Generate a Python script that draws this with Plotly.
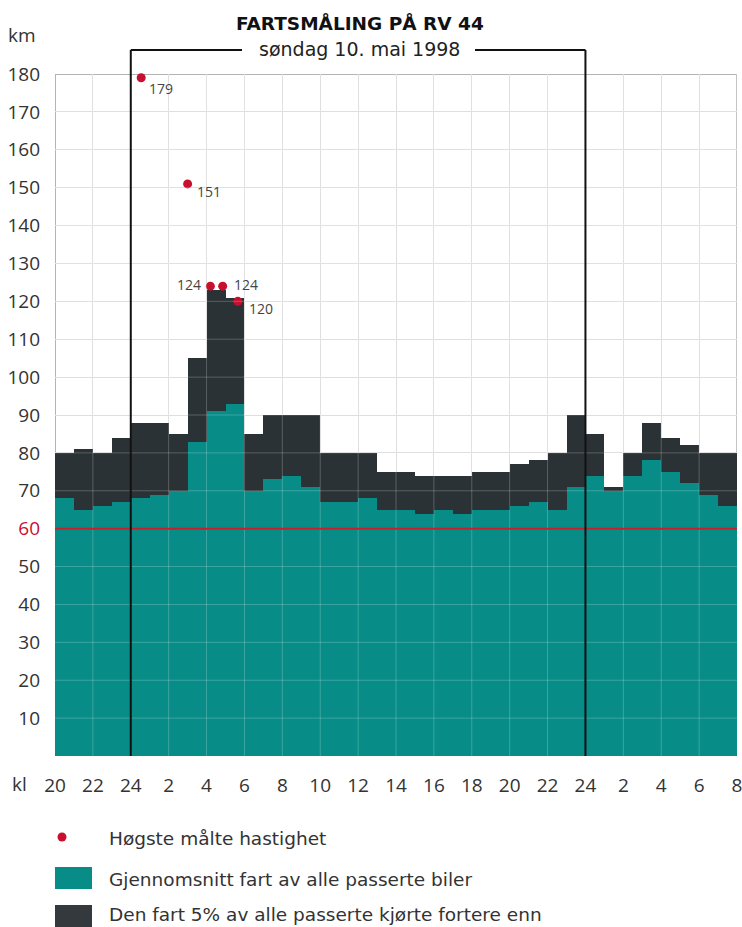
import plotly.graph_objects as go

# ---------------- data ----------------
hour_labels = ['20', '22', '24', '2', '4', '6', '8', '10', '12', '14', '16', '18',
               '20', '22', '24', '2', '4', '6', '8']
# speed that 5% of all passing cars exceeded (hourly, starting kl 20)
p95_speed = [80, 81, 80, 84, 88, 88, 85, 105, 123, 121, 85, 90,
             90, 90, 80, 80, 80, 75, 75, 74, 74, 74, 75, 75,
             77, 78, 80, 90, 85, 71, 80, 88, 84, 82, 80, 80]
# average speed of all passing cars (hourly, starting kl 20)
mean_speed = [68, 65, 66, 67, 68, 69, 70, 83, 91, 93, 70, 73,
              74, 71, 67, 67, 68, 65, 65, 64, 65, 64, 65, 65,
              66, 67, 65, 71, 74, 70, 74, 78, 75, 72, 69, 66]
# highest measured speeds (hours after kl 20)
max_hours = [4.55, 7.0, 8.2, 8.85, 9.65]
max_speed = [179, 151, 124, 124, 120]
speed_limit = 60
midnights = [4, 28]
y_ticks = list(range(10, 190, 10))

# ---------------- style ----------------
TEAL = '#078c87'
DARK = '#2b3235'
RED = '#c8102e'
TXT = '#333333'
FONT = 'Open Sans'
WIDE = 'DejaVu Sans'

W, H = 742, 927
L, R, T, B = 55, 5, 74, 171
PW, PH = W - L - R, H - T - B
BASE = H - B


def px(x):
    return (x - L) / PW


def py(y):
    return (BASE - y) / PH


n = len(p95_speed)
centers = [i + 0.5 for i in range(n)]
x_ticks = list(range(0, n + 1, 2))

fig = go.Figure()
fig.add_trace(go.Bar(x=centers, y=p95_speed, width=1, marker=dict(color=DARK, line=dict(width=0)),
                     hoverinfo='skip'))
fig.add_trace(go.Bar(x=centers, y=mean_speed, width=1, marker=dict(color=TEAL, line=dict(width=0)),
                     hoverinfo='skip'))
fig.add_trace(go.Scatter(x=max_hours, y=max_speed, mode='markers',
                         marker=dict(color=RED, size=9), cliponaxis=False, hoverinfo='skip'))

shapes = []
# plot frame (below bars)
shapes.append(dict(type='line', xref='x', yref='y', x0=0, x1=n, y0=180, y1=180,
                   line=dict(color='#b4b4b4', width=2), layer='below'))
shapes.append(dict(type='line', xref='x', yref='y', x0=0, x1=0, y0=0, y1=180,
                   line=dict(color='#b4b4b4', width=2), layer='below'))
shapes.append(dict(type='line', xref='x', yref='y', x0=n, x1=n, y0=0, y1=180,
                   line=dict(color='#c4c4c4', width=2), layer='below'))
# light grid over bars
for xv in x_ticks[1:-1]:
    shapes.append(dict(type='line', xref='x', yref='y', x0=xv, x1=xv, y0=0, y1=180,
                       line=dict(color='rgba(255,255,255,0.22)', width=1), layer='above'))
for yv in y_ticks[:-1]:
    shapes.append(dict(type='line', xref='x', yref='y', x0=0, x1=n, y0=yv, y1=yv,
                       line=dict(color='rgba(255,255,255,0.22)', width=1), layer='above'))
# speed limit
shapes.append(dict(type='line', xref='x', yref='y', x0=0, x1=n, y0=speed_limit, y1=speed_limit,
                   line=dict(color='#c8202a', width=2), layer='above'))
# day bracket
for m in midnights:
    shapes.append(dict(type='line', xref='paper', yref='paper', x0=m / n, x1=m / n, y0=0, y1=py(50),
                       line=dict(color='#111111', width=2), layer='above'))
shapes.append(dict(type='line', xref='paper', yref='paper', x0=midnights[0] / n, x1=px(242),
                   y0=py(50), y1=py(50), line=dict(color='#111111', width=2)))
shapes.append(dict(type='line', xref='paper', yref='paper', x0=px(475), x1=midnights[1] / n,
                   y0=py(50), y1=py(50), line=dict(color='#111111', width=2)))
# legend symbols
shapes.append(dict(type='circle', xref='paper', yref='paper', x0=px(57.5), x1=px(66.5),
                   y0=py(841.5), y1=py(832.5), fillcolor=RED, line=dict(width=0)))
shapes.append(dict(type='rect', xref='paper', yref='paper', x0=px(55), x1=px(92),
                   y0=py(889), y1=py(867), fillcolor=TEAL, line=dict(width=0)))
shapes.append(dict(type='rect', xref='paper', yref='paper', x0=px(55), x1=px(92),
                   y0=py(927), y1=py(905), fillcolor='#33393c', line=dict(width=0)))

ann = []
ann.append(dict(text='<b>FARTSMÅLING PÅ RV 44</b>', x=px(360), y=py(23), xref='paper', yref='paper',
                showarrow=False, xanchor='center', yanchor='middle',
                font=dict(family=WIDE, size=18.5, color='#111')))
ann.append(dict(text='søndag 10. mai 1998', x=px(359), y=py(49), xref='paper', yref='paper',
                showarrow=False, xanchor='center', yanchor='middle',
                font=dict(family=WIDE, size=19, color='#222')))
ann.append(dict(text='km', x=px(22), y=py(35), xref='paper', yref='paper',
                showarrow=False, xanchor='center', yanchor='middle', font=dict(size=19, color=TXT)))
ann.append(dict(text='kl', x=px(19), y=py(784), xref='paper', yref='paper',
                showarrow=False, xanchor='center', yanchor='middle', font=dict(size=19, color=TXT)))

# labels for highest measured speeds
offsets = [(6, -11, 'left'), (7, -8, 'left'), (-7, 2, 'right'), (9, 2, 'left'), (9, -7, 'left')]
for xv, yv, (dx, dy, anc) in zip(max_hours, max_speed, offsets):
    ann.append(dict(text=str(yv), x=xv, y=yv, xref='x', yref='y', showarrow=False,
                    xanchor=anc, yanchor='middle', xshift=dx, yshift=dy,
                    font=dict(size=14, color='#444')))

legend_items = ['Høgste målte hastighet',
                'Gjennomsnitt fart av alle passerte biler',
                'Den fart 5% av alle passerte kjørte fortere enn']
for txt, yy in zip(legend_items, [839, 879, 914]):
    ann.append(dict(text=txt, x=px(107), y=py(yy), xref='paper', yref='paper', showarrow=False,
                    xanchor='left', yanchor='middle', font=dict(family=WIDE, size=18.5, color=TXT)))

y_text = [f'<span style="color:{RED}">{v}</span>' if v == speed_limit else str(v) for v in y_ticks]

fig.update_layout(
    width=W, height=H,
    margin=dict(l=L, r=R, t=T, b=B, pad=0, autoexpand=False),
    paper_bgcolor='white', plot_bgcolor='white',
    barmode='overlay', bargap=0,
    showlegend=False,
    font=dict(family=FONT, color=TXT),
    shapes=shapes, annotations=ann,
    xaxis=dict(range=[0, n], tickmode='array', tickvals=x_ticks, ticktext=hour_labels,
               showgrid=True, gridcolor='#dadada', gridwidth=1, zeroline=False, showline=False,
               ticks='', tickfont=dict(size=19, color=TXT), ticklabelstandoff=16,
               ticklabeloverflow='allow', automargin=False, fixedrange=True),
    yaxis=dict(range=[0, 180], tickmode='array', tickvals=y_ticks, ticktext=y_text,
               showgrid=True, gridcolor='#dadada', gridwidth=1, zeroline=False, showline=False,
               ticks='', tickfont=dict(size=19, color=TXT), ticklabelstandoff=14,
               ticklabeloverflow='allow', automargin=False, fixedrange=True),
)

fig.write_html('out.html', config={'displayModeBar': False},
               post_script="document.body.style.margin='0';document.body.style.overflow='hidden';")
